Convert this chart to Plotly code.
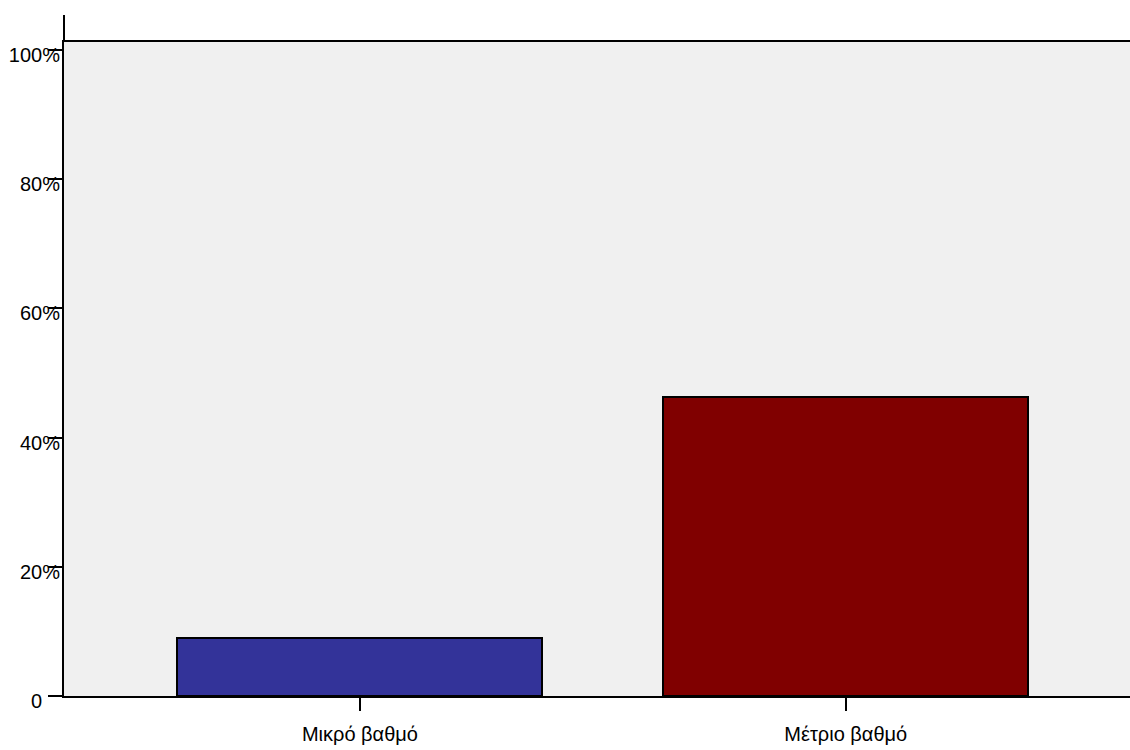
import plotly.graph_objects as go

categories = ["Μικρό βαθμό", "Μέτριο βαθμό"]
values = [0.0905, 0.463]
bar_colors = ["#333399", "#800000"]
y_tickvals = [0, 0.2, 0.4, 0.6, 0.8, 1.0]
y_ticktext = ["0<span style='color:rgba(0,0,0,0)'>%</span>", "20%", "40%", "60%", "80%", "100%"]

fig = go.Figure()
fig.add_trace(go.Bar(
    x=[0, 1], y=values, width=0.751,
    marker=dict(color=bar_colors, line=dict(color="black", width=2)),
    hoverinfo="skip",
))

font = dict(family="Liberation Sans, Arial, sans-serif", size=20, color="black")

fig.update_layout(
    width=1130, height=750,
    margin=dict(l=64, r=0, t=42, b=54, pad=0),
    paper_bgcolor="white", plot_bgcolor="#f0f0f0",
    showlegend=False,
    font=font,
    bargap=0,
    xaxis=dict(
        range=[-0.609, 1.585], tickvals=[0, 1], ticktext=categories,
        showgrid=False, zeroline=False, showline=True, linecolor="black", linewidth=2,
        mirror=True, ticks="outside", ticklen=13, tickwidth=2, tickcolor="black",
        tickfont=font, ticklabelstandoff=6,
    ),
    yaxis=dict(
        range=[0, 1.012], tickvals=y_tickvals, ticktext=y_ticktext,
        showgrid=False, zeroline=False, showline=True, linecolor="black", linewidth=2,
        ticks="outside", ticklen=14, tickwidth=2, tickcolor="black",
        tickfont=font, ticklabelstandoff=-16, ticklabelshift=5,
    ),
    shapes=[dict(type="line", xref="paper", yref="paper", x0=0, x1=0,
                 y0=1, y1=1 + 27 / 654, line=dict(color="black", width=2))],
)

fig.write_html(
    "out.html",
    config={"displayModeBar": False},
    post_script="document.body.style.margin='0';document.body.style.overflow='hidden';",
)
